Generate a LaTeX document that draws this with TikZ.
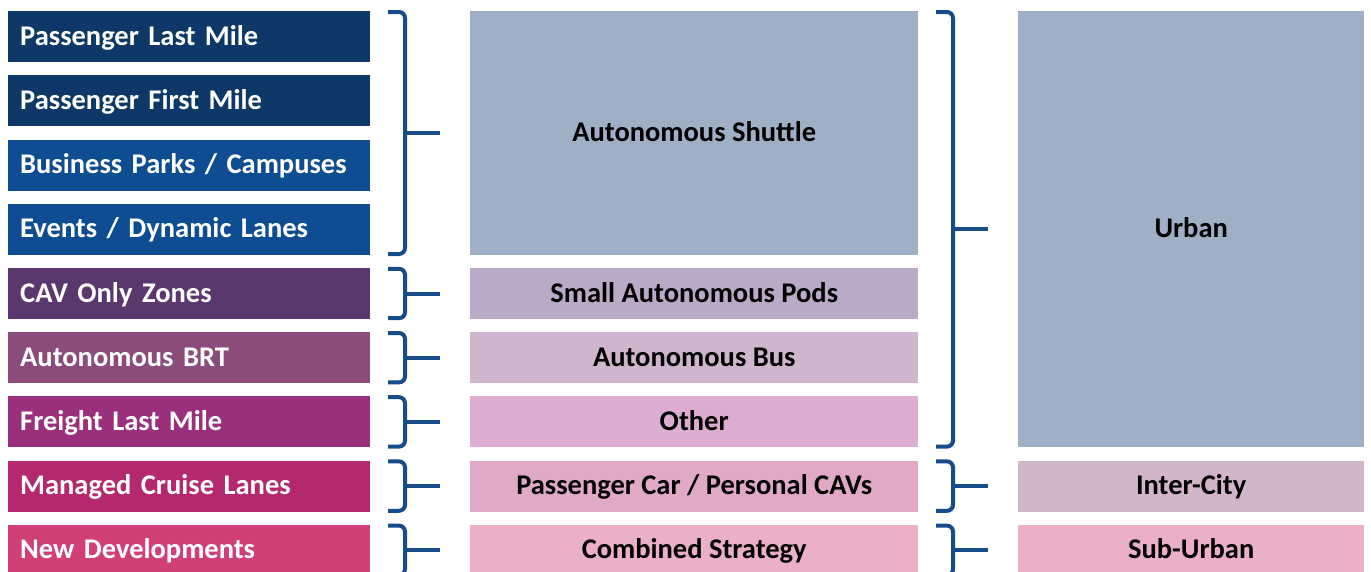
\documentclass[tikz,border=0pt]{standalone}
\usepackage{fontspec}
\setmainfont{Carlito}
\usetikzlibrary{calc}
\definecolor{cA}{RGB}{13,56,104}
\definecolor{cB}{RGB}{14,77,146}
\definecolor{cC}{RGB}{90,56,110}
\definecolor{cD}{RGB}{139,76,124}
\definecolor{cE}{RGB}{154,47,124}
\definecolor{cF}{RGB}{180,40,110}
\definecolor{cG}{RGB}{208,64,119}
\definecolor{mA}{RGB}{159,175,198}
\definecolor{mB}{RGB}{187,170,199}
\definecolor{mC}{RGB}{207,181,205}
\definecolor{mD}{RGB}{220,173,208}
\definecolor{mE}{RGB}{224,169,200}
\definecolor{mF}{RGB}{235,175,200}
\definecolor{rB}{RGB}{210,181,203}
\definecolor{brcol}{RGB}{22,76,138}
\tikzset{
  x=1pt,y=1pt,
  txt/.style={font=\fontsize{28.5}{32}\selectfont\bfseries, text height=20pt, text depth=3pt},
  lbox/.style={txt, fill=#1, anchor=north west, minimum height=51pt, text width=338pt, inner xsep=12pt, inner ysep=0pt, align=left, text=white},
  mbox/.style={txt, fill=#1, anchor=north west, minimum height=51pt, minimum width=448pt, inner sep=0pt, text=black},
  rbox/.style={txt, fill=#1, anchor=north west, minimum height=51pt, minimum width=346pt, inner sep=0pt, text=black},
  brc/.style={draw=brcol, line width=4pt},
}
\newcommand\mybrace[3]{%
  \draw[brc, rounded corners=6pt] ($(#3.west |- #1.north)+(-82,-1)$) -- ($(#3.west |- #1.north)+(-65,-1)$) -- ($(#3.west |- #2.south)+(-65,1)$) -- ($(#3.west |- #2.south)+(-82,1)$);
  \draw[brc] ($(#3.west)+(-65,0)$) -- ($(#3.west)+(-30,0)$);}
\begin{document}
\begin{tikzpicture}
\useasboundingbox (0,0) rectangle (1371,-571);
% left column
\node[lbox=cA] (l1) at (8,-11) {Passenger Last Mile};
\node[lbox=cA] (l2) at (8,-75.2) {Passenger First Mile};
\node[lbox=cB] (l3) at (8,-139.4) {Business Parks / Campuses};
\node[lbox=cB] (l4) at (8,-203.6) {Events / Dynamic Lanes};
\node[lbox=cC] (l5) at (8,-267.8) {CAV Only Zones};
\node[lbox=cD] (l6) at (8,-332) {Autonomous BRT};
\node[lbox=cE] (l7) at (8,-396.2) {Freight Last Mile};
\node[lbox=cF] (l8) at (8,-460.4) {Managed Cruise Lanes};
\node[lbox=cG] (l9) at (8,-524.6) {New Developments};
% middle column
\node[mbox=mA, minimum height=243.6pt] (m1) at (470,-11) {Autonomous Shuttle};
\node[mbox=mB] (m5) at (470,-267.8) {Small Autonomous Pods};
\node[mbox=mC] (m6) at (470,-332) {Autonomous Bus};
\node[mbox=mD] (m7) at (470,-396.2) {Other};
\node[mbox=mE] (m8) at (470,-460.4) {Passenger Car / Personal CAVs};
\node[mbox=mF] (m9) at (470,-524.6) {Combined Strategy};
% right column
\node[rbox=mA, minimum height=436.2pt] (r1) at (1018,-11) {Urban};
\node[rbox=rB] (r8) at (1018,-460.4) {Inter-City};
\node[rbox=mF] (r9) at (1018,-524.6) {Sub-Urban};
% braces
\mybrace{l1}{l4}{m1}
\mybrace{l5}{l5}{m5}
\mybrace{l6}{l6}{m6}
\mybrace{l7}{l7}{m7}
\mybrace{l8}{l8}{m8}
\mybrace{l9}{l9}{m9}
\mybrace{m1}{m7}{r1}
\mybrace{m8}{m8}{r8}
\mybrace{m9}{m9}{r9}
\end{tikzpicture}
\end{document}
